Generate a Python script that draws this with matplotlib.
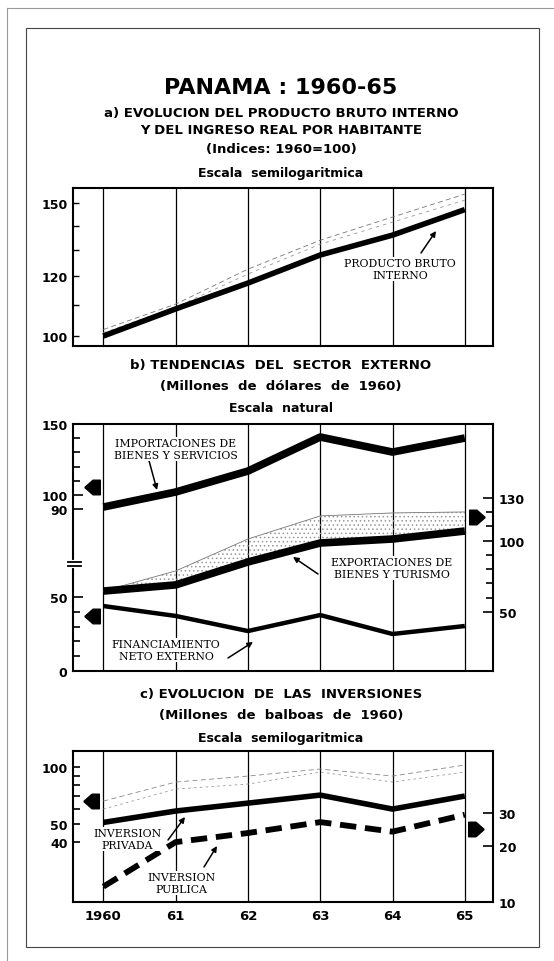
import matplotlib
matplotlib.use("Agg")
import matplotlib.pyplot as plt
from matplotlib.patches import Rectangle
from matplotlib.lines import Line2D
from matplotlib.ticker import NullFormatter

plt.rcParams['font.family'] = ['DejaVu Sans']
plt.rcParams['font.weight'] = 'bold'
plt.rcParams['hatch.linewidth'] = 0.6

years = [1960, 1961, 1962, 1963, 1964, 1965]
year_labels = ['1960', '61', '62', '63', '64', '65']

# a) indices 1960=100
pib = [100, 108.6, 117.5, 128.0, 136.0, 147.0]
ingreso_1 = [102.0, 110.2, 122.6, 133.9, 143.7, 154.1]
ingreso_2 = [101.0, 109.2, 120.8, 132.3, 141.5, 151.3]

# b) millones de dolares de 1960
importaciones = [91.4, 102.0, 116.8, 140.8, 130.2, 140.1]
exportaciones = [64.7, 69.0, 85.1, 98.4, 101.2, 106.8]
exportaciones_sup = [64.7, 78.8, 101.2, 117.4, 119.5, 120.2]
financiamiento = [43.9, 37.2, 27.0, 37.8, 25.0, 30.4]

# c) millones de balboas de 1960
inv_privada = [51.0, 58.6, 64.5, 71.1, 60.0, 70.3]
inv_publica = [12.1, 21.0, 23.5, 26.9, 23.9, 29.5]
inv_total_1 = [66.1, 83.3, 89.6, 97.6, 89.6, 102.5]
inv_total_2 = [60.0, 76.5, 81.3, 94.1, 83.3, 94.1]

W, H = 554, 962
fig = plt.figure(figsize=(W / 100, H / 100), dpi=100)
XLIM = (1959.58, 1965.39)


def box(top, bottom):
    return [73 / W, 1 - bottom / H, 420 / W, (bottom - top) / H]


def P(x, y):
    return (x, H - y)


def base(ax):
    ax.set_xlim(*XLIM)
    for s in ax.spines.values():
        s.set_linewidth(1.5)
    for yr in years:
        ax.axvline(yr, color='k', lw=0.9, zorder=1)
    ax.set_xticks([])
    ax.tick_params(axis='y', which='both', direction='in', width=1.2, labelsize=9, pad=4)
    ax.tick_params(axis='y', which='major', length=7)
    ax.tick_params(axis='y', which='minor', length=5)


def overlay(pos):
    a = fig.add_axes(pos)
    a.patch.set_visible(False)
    for s in a.spines.values():
        s.set_visible(False)
    a.set_xlim(*XLIM)
    a.set_xticks([])
    a.tick_params(axis='y', which='both', direction='in', width=1.2, labelsize=9, pad=4)
    a.tick_params(axis='y', which='major', length=7)
    a.tick_params(axis='y', which='minor', length=5)
    return a


left_arrow = [(-1, 0), (-0.15, 0.75), (0.6, 0.75), (0.6, -0.75), (-0.15, -0.75), (-1, 0)]
right_arrow = [(-x, y) for x, y in left_arrow]


def side_arrow(ax, x, y, verts):
    ax.plot([x], [y], marker=verts, ms=14, color='k', transform=ax.transAxes,
            clip_on=False, zorder=6)


serif = dict(family='DejaVu Serif', weight='normal', size=7.8, ha='center', va='center',
             linespacing=1.25, bbox=dict(fc='white', ec='none', pad=0.5))


def label(x, y, txt):
    fig.text(x / W, 1 - y / H, txt, **serif)


def arrow(tail, head):
    fig.add_artist(plt.Annotation('', xy=P(*head), xytext=P(*tail), xycoords='figure pixels',
                                  textcoords='figure pixels',
                                  arrowprops=dict(arrowstyle='-|>', lw=1.1, color='k',
                                                  mutation_scale=8, shrinkA=0, shrinkB=0)))


# headings
cx = 281 / W
fig.text(cx, 1 - 88 / H, 'PANAMA : 1960-65', ha='center', va='center', fontsize=16)
head_kw = dict(ha='center', va='center', fontsize=9.5)
fig.text(cx, 1 - 113 / H, 'a) EVOLUCION DEL PRODUCTO BRUTO INTERNO', **head_kw)
fig.text(cx, 1 - 131 / H, 'Y DEL INGRESO REAL POR HABITANTE', **head_kw)
fig.text(cx, 1 - 150 / H, '(Indices: 1960=100)', **head_kw)
fig.text(cx, 1 - 174 / H, 'Escala  semilogaritmica', ha='center', va='center', fontsize=9)
fig.text(cx, 1 - 366 / H, 'b) TENDENCIAS  DEL  SECTOR  EXTERNO', **head_kw)
fig.text(cx, 1 - 387 / H, '(Millones  de  dólares  de  1960)', **head_kw)
fig.text(cx, 1 - 409 / H, 'Escala  natural', ha='center', va='center', fontsize=9)
fig.text(cx, 1 - 695 / H, 'c) EVOLUCION  DE  LAS  INVERSIONES', **head_kw)
fig.text(cx, 1 - 716 / H, '(Millones  de  balboas  de  1960)', **head_kw)
fig.text(cx, 1 - 739 / H, 'Escala  semilogaritmica', ha='center', va='center', fontsize=9)

# ---- panel a
axa = fig.add_axes(box(189, 347))
base(axa)
axa.set_yscale('log')
axa.set_ylim(97.0, 157.0)
axa.set_yticks([100, 120, 150], ['100', '120', '150'])
axa.set_yticks([110, 130, 140], minor=True)
axa.yaxis.set_minor_formatter(NullFormatter())
axa.tick_params(axis='y', which='both', length=4, width=1)
axa.plot(years, ingreso_1, color='#777', lw=0.6, ls=(0, (6, 4)), zorder=2)
axa.plot(years, ingreso_2, color='#999', lw=0.6, ls=(0, (4, 5)), zorder=2)
axa.plot(years, pib, color='k', lw=4, solid_capstyle='butt', zorder=3)
label(400, 270, 'PRODUCTO BRUTO\nINTERNO')
arrow((421, 254), (436, 232))

# ---- panel b
pos_b = box(425, 672)
axb = fig.add_axes(pos_b)
base(axb)
axb.set_ylim(0, 166.9)
axb.set_yticks([0, 50], ['0', '50'])
axb.set_yticks([10, 20, 30, 40], minor=True)
axb.plot(years, financiamiento, color='k', lw=3.2, solid_capstyle='butt', zorder=3)

axb_up = overlay(pos_b)
axb_up.set_ylim(-24.3, 150)
axb_up.set_yticks([90, 100, 150], ['90', '100', '150'])
axb_up.set_yticks([110, 120, 130, 140], minor=True)
axb_up.plot(years, importaciones, color='k', lw=5.5, solid_capstyle='butt', zorder=3)

axb_r = overlay(pos_b)
axb_r.yaxis.tick_right()
axb_r.set_ylim(8.6, 181.9)
axb_r.set_yticks([50, 100, 130], ['50', '100', '130'])
axb_r.set_yticks([60, 70, 80, 90, 110, 120], minor=True)
axb_r.fill_between(years, exportaciones, exportaciones_sup, facecolor='none',
                   edgecolor='#9a9a9a', hatch='....', lw=0, zorder=1)
axb_r.plot(years, exportaciones_sup, color='#777', lw=0.6, zorder=2)
axb_r.plot(years, exportaciones, color='k', lw=5.5, solid_capstyle='butt', zorder=3)

# axis break on the left spine
axb.plot([0, 0], [0.424, 0.442], color='white', lw=3, transform=axb.transAxes,
         clip_on=False, zorder=7)
for yb in (0.426, 0.440):
    axb.plot([-0.012, 0.02], [yb, yb], color='k', lw=1.3, transform=axb.transAxes,
             clip_on=False, zorder=8)

side_arrow(axb, 0.05, 0.745, left_arrow)
side_arrow(axb, 0.05, 0.223, left_arrow)
side_arrow(axb, 0.957, 0.623, right_arrow)

label(176, 450, 'IMPORTACIONES DE\nBIENES Y SERVICIOS')
arrow((148, 458), (157, 491))
label(392, 569, 'EXPORTACIONES DE\nBIENES Y TURISMO')
arrow((318, 575), (293, 558))
label(166, 651, 'FINANCIAMIENTO\nNETO EXTERNO')
arrow((228, 659), (253, 643))

# ---- panel c
pos_c = box(752, 903)
axc = fig.add_axes(pos_c)
base(axc)
axc.set_yscale('log')
axc.set_ylim(19.4, 121.5)
axc.set_yticks([40, 50, 100], ['40', '50', '100'])
axc.set_yticks([60, 70, 80, 90], minor=True)
axc.yaxis.set_minor_formatter(NullFormatter())
axc.tick_params(axis='y', which='both', length=5)
axc.plot(years, inv_total_1, color='#888', lw=0.6, ls=(0, (6, 4)), zorder=2)
axc.plot(years, inv_total_2, color='#999', lw=0.6, ls=(0, (3, 4)), zorder=2)
axc.plot(years, inv_privada, color='k', lw=4, solid_capstyle='butt', zorder=3)
axc.set_xticks(years, year_labels)
axc.tick_params(axis='x', length=0, labelsize=9.5, pad=5)

axc_r = overlay(pos_c)
axc_r.set_yscale('log')
axc_r.yaxis.tick_right()
axc_r.set_ylim(10, 64.9)
axc_r.set_yticks([10, 20, 30], ['10', '20', '30'])
axc_r.yaxis.set_minor_locator(matplotlib.ticker.NullLocator())
axc_r.plot(years, inv_publica, color='k', lw=4.2, ls=(0, (2.8, 1.5)),
           dash_capstyle='butt', zorder=3)

side_arrow(axc, 0.048, 0.669, left_arrow)
side_arrow(axc, 0.955, 0.483, right_arrow)

label(127, 840, 'INVERSION\nPRIVADA')
arrow((168, 841), (185, 818))
label(181, 884, 'INVERSION\nPUBLICA')
arrow((204, 868), (217, 847))

# page frame and scan edges
fig.add_artist(Rectangle((26 / W, 1 - 948 / H), (539 - 26) / W, (948 - 29) / H,
                         transform=fig.transFigure, fill=False, lw=0.8, ec='#444'))
fig.add_artist(Line2D([7 / W, 7 / W], [0, 1 - 9 / H], transform=fig.transFigure,
                      color='#999', lw=0.8))
fig.add_artist(Line2D([7 / W, 1], [1 - 9 / H, 1 - 9 / H], transform=fig.transFigure,
                      color='#999', lw=0.8))

fig.savefig('out.png', dpi=100)
